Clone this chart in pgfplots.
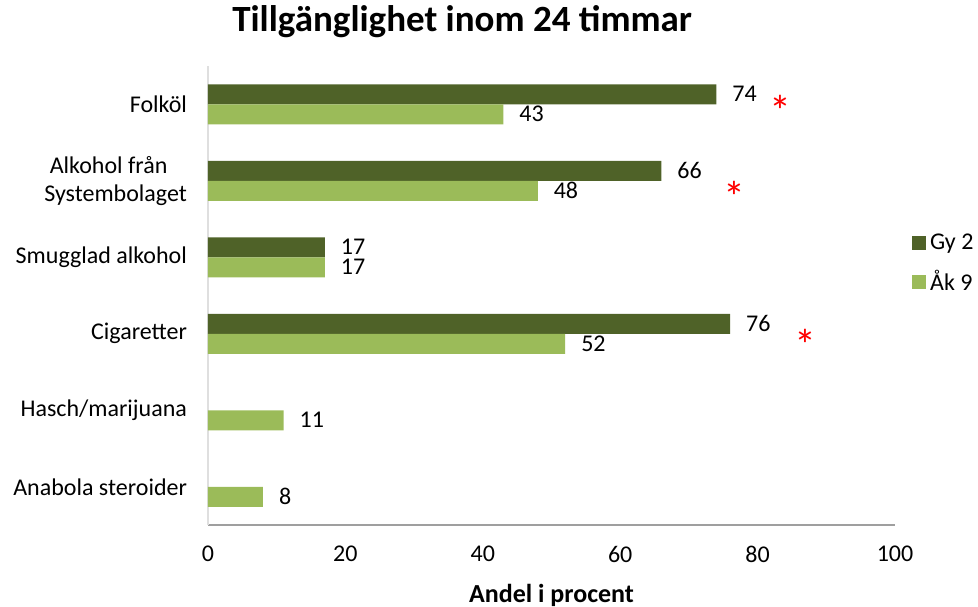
\documentclass[border=0pt]{standalone}
\usepackage{pgfplots}
\pgfplotsset{compat=1.18}
\usepackage{fontspec}
\setmainfont{Carlito}
\definecolor{gydark}{HTML}{4F6228}
\definecolor{aklight}{HTML}{9BBB59}
\begin{document}
\begin{tikzpicture}
\path[use as bounding box] (-104pt,-40.5pt) rectangle (385pt,262.5pt);
\begin{axis}[
 at={(0,0)}, anchor=south west,
 scale only axis, width=343.5pt, height=229.5pt,
 xmin=0, xmax=100, ymin=-0.5, ymax=5.5,
 xtick={0,20,...,100}, ytick={0,...,5},
 yticklabels={Anabola steroider, Hasch/marijuana, Cigaretter, Smugglad alkohol, {Alkohol från\hspace*{7pt}\\Systembolaget}, Folköl},
 axis x line*=bottom, axis y line*=left,
 x axis line style={draw=gray!75, -, line width=0.8pt},
 y axis line style={draw=gray!25, -, line width=0.8pt},
 major tick length=0pt,
 tick style={draw=none},
 /pgf/number format/assume math mode=true,
 ticklabel style={font=\fontsize{12}{14}\selectfont},
 yticklabel style={align=center, xshift=-7pt},
 xticklabel style={yshift=-7pt},
 xlabel={Andel i procent},
 xlabel style={at={(axis description cs:0.5,0)}, anchor=center, yshift=-35pt, font=\bfseries\fontsize{13}{15}\selectfont},
 legend style={draw=none, fill=none, at={(axis description cs:1.0247,0.5695)}, anchor=west, inner sep=0pt, row sep=5pt, font=\fontsize{12}{14}\selectfont, /tikz/every even column/.append style={column sep=3pt}},
 legend cell align=left,
 clip=false,
]
\addlegendimage{legend image code/.code={\fill[gydark] (0pt,-3.25pt) rectangle (6.5pt,3.25pt);}}
\addlegendimage{legend image code/.code={\fill[aklight] (0pt,-3.25pt) rectangle (6.5pt,3.25pt);}}
\addplot[forget plot, xbar, bar width=10pt, bar shift=5pt, fill=gydark, draw=none,
 point meta=x, nodes near coords, nodes near coords align=horizontal,
 every node near coord/.append style={font=\fontsize{12}{14}\selectfont, xshift=4.5pt, yshift=5pt, text=black}]
 coordinates {(74,5) (66,4) (17,3) (76,2)};
\addplot[forget plot, xbar, bar width=10pt, bar shift=-5pt, fill=aklight, draw=none,
 point meta=x, nodes near coords, nodes near coords align=horizontal,
 every node near coord/.append style={font=\fontsize{12}{14}\selectfont, xshift=4.5pt, yshift=-5pt, text=black}]
 coordinates {(43,5) (48,4) (17,3) (52,2) (11,1) (8,0)};
\addplot[forget plot, only marks, color=red, mark=text, text mark={*}, text mark as node=true,
 text mark style={text=red, font=\fontsize{22}{22}\selectfont, yshift=-4.4pt}]
 coordinates {(83.3,5.026) (76.7,3.90) (86.9,1.967)};
\node[font=\bfseries\fontsize{18.5}{22}\selectfont, anchor=center] at (rel axis cs:0.37,1.096) {Tillgänglighet inom 24 timmar};
\legend{Gy 2, Åk 9}
\end{axis}
\end{tikzpicture}
\end{document}
